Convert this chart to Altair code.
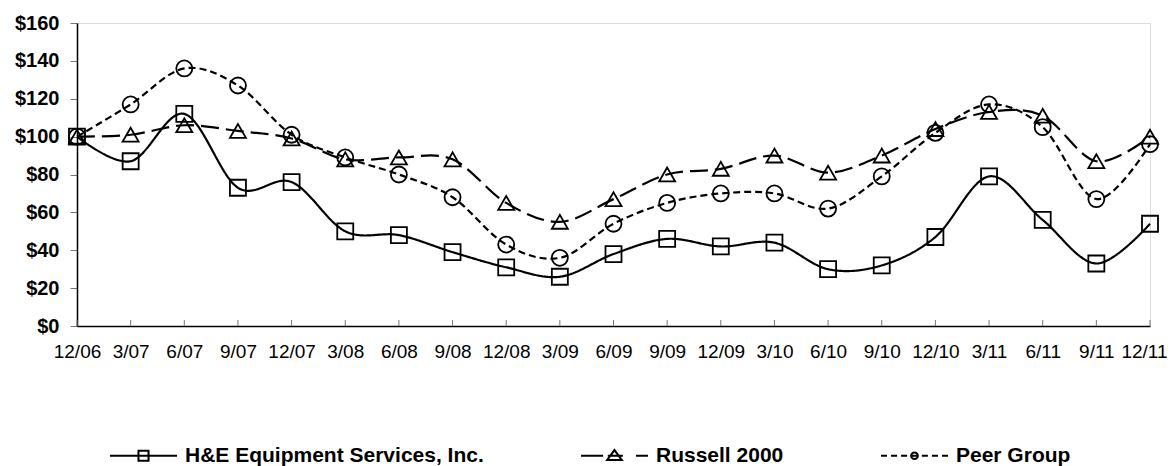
import altair as alt
import pandas as pd

dates = ["12/06", "3/07", "6/07", "9/07", "12/07", "3/08", "6/08", "9/08", "12/08", "3/09",
         "6/09", "9/09", "12/09", "3/10", "6/10", "9/10", "12/10", "3/11", "6/11", "9/11", "12/11"]
series = ["H&E Equipment Services, Inc.", "Russell 2000", "Peer Group"]
he = [100, 87, 112, 73, 76, 50, 48, 39, 31, 26, 38, 46, 42, 44, 30, 32, 47, 79, 56, 33, 54]
russell = [100, 101, 106, 103, 99, 88, 89, 88, 65, 55, 67, 80, 83, 90, 81, 90, 104, 113, 111, 87, 100]
peer = [100, 117, 136, 127, 101, 89, 80, 68, 43, 36, 54, 65, 70, 70, 62, 79, 102, 117, 105, 67, 96]
y_ticks = [0, 20, 40, 60, 80, 100, 120, 140, 160]

rows = []
for name, vals in zip(series, [he, russell, peer]):
    for d, v in zip(dates, vals):
        rows.append({"date": d, "series": name, "value": v})
df = pd.DataFrame(rows)

W, H = 1073, 303
FONT = "Liberation Sans"

x_enc = alt.X("date:O", sort=dates, scale=alt.Scale(type="point", padding=0),
              axis=alt.Axis(title=None, labelAngle=0, ticks=False, labelPadding=16,
                            labelFlush=False, labelOverlap=False, labelBound=False,
                            labelAlign="center", labelBaseline="top",
                            labelOffset={"expr": "datum.label == '12/11' ? -6 : 0"},
                            labelFont=FONT, labelFontSize=19, labelColor="black",
                            domainColor="black", domainWidth=1.5, grid=False))
y_enc = alt.Y("value:Q", scale=alt.Scale(domain=[0, 160], nice=False, zero=True),
              axis=alt.Axis(title=None, values=y_ticks, format="$.0f", tickSize=7,
                            tickColor="#777", tickWidth=1, labelPadding=11,
                            labelFont=FONT, labelFontSize=20, labelFontWeight="bold",
                            labelColor="black", domainColor="black", domainWidth=1.5,
                            grid=False))

base = alt.Chart(df)

tick_rules = alt.Chart(pd.DataFrame({"date": dates})).mark_rule(color="#777", strokeWidth=1).encode(
    x=alt.X("date:O", sort=dates),
    y=alt.value(H - 6),
    y2=alt.value(H),
)

lines = base.mark_line(interpolate="cardinal", tension=0, color="black", strokeWidth=2.2).encode(
    x=x_enc,
    y=y_enc,
    strokeDash=alt.StrokeDash("series:N", scale=alt.Scale(domain=series, range=[[1, 0], [18, 7], [7, 4]]),
                              legend=None),
)

points = base.mark_point(filled=False, color="black", strokeWidth=1.8, opacity=1).encode(
    x=x_enc,
    y=y_enc,
    shape=alt.Shape("series:N", scale=alt.Scale(domain=series, range=["square", "triangle-up", "circle"]),
                    legend=None),
    size=alt.Size("series:N", scale=alt.Scale(domain=series, range=[256, 256, 225]), legend=None),
)

p_he = "M-1,0H1M-0.15,-0.15H0.15V0.15H-0.15Z"
p_ru = "M-1,0H-0.34M-0.2,0H0.25M0.64,0H1M0,-0.17L0.22,0.13H-0.22Z"
p_pe = ("M-1,0H-0.82M-0.7,0H-0.52M-0.4,0H-0.22M-0.1,0H0.1M0.22,0H0.4M0.52,0H0.7M0.82,0H1"
        "M0.1,0A0.1,0.1 0 1 1 -0.1,0A0.1,0.1 0 1 1 0.1,0Z")

legend_layer = base.mark_point(filled=False, color="black", opacity=0).encode(
    x=x_enc,
    y=y_enc,
    shape=alt.Shape("series:N", scale=alt.Scale(domain=series, range=[p_he, p_ru, p_pe]),
                    legend=alt.Legend(title=None, orient="none", legendX=32, legendY=398,
                                      direction="horizontal", columns=3, columnPadding=93,
                                      symbolSize=4489, symbolStrokeWidth=2, symbolStrokeColor="black",
                                      symbolFillColor="transparent", symbolOpacity=1,
                                      labelFont=FONT, labelFontSize=21, labelFontWeight="bold",
                                      labelColor="black", labelOffset=7, labelLimit=0, padding=0)),
)

chart = alt.layer(tick_rules, lines, points, legend_layer).resolve_scale(
    shape="independent"
).properties(
    width=W, height=H,
    autosize=alt.AutoSizeParams(type="none"),
    padding={"left": 69, "top": 15, "right": 18, "bottom": 142},
).configure_view(stroke=None).configure(background="white")

chart.save("out.html", embed_options={"renderer": "svg", "actions": False})
